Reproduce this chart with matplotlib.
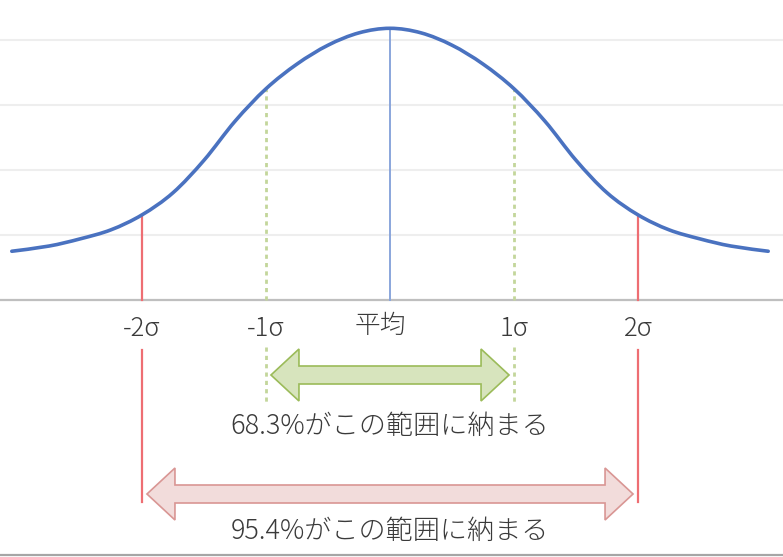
import numpy as np
import matplotlib.pyplot as plt
from matplotlib.patches import Polygon, PathPatch
from matplotlib.path import Path

plt.rcParams['font.family'] = ['Noto Sans CJK JP', 'DejaVu Sans']

# curve: position in sigma, height in gridline units
z_pos = [-3.05, -2.75, -2.5, -2.25, -2.0, -1.75, -1.5, -1.25, -1.0, -0.75, -0.5, -0.25,
         0.0, 0.25, 0.5, 0.75, 1.0, 1.25, 1.5, 1.75, 2.0, 2.25, 2.5, 2.75, 3.05]
height = [0.75, 0.83, 0.94, 1.08, 1.31, 1.65, 2.15, 2.75, 3.25, 3.63, 3.92, 4.11,
          4.18, 4.11, 3.92, 3.63, 3.25, 2.75, 2.15, 1.65, 1.31, 1.08, 0.94, 0.83, 0.75]

tick_pos = [-2, -1, -0.08, 1, 2]
tick_labels = ['-2σ', '-1σ', '平均', '1σ', '2σ']
grid_levels = [1, 2, 3, 4]

ranges = [1, 2]
range_texts = ['68.3%がこの範囲に納まる', '95.4%がこの範囲に納まる']

# pixel scale of the original: 124 px per sigma, 65 px per grid step
fig = plt.figure(figsize=(7.83, 5.57), dpi=100)
ax = fig.add_axes([0, 0, 1, 1])
ax.axis('off')
ax.set_xlim(-390 / 124, 393 / 124)
ax.set_ylim(-257 / 65, 300 / 65)

for g in grid_levels:
    ax.axhline(g, color='#eeeeee', lw=1.5, zorder=0)
ax.axhline(0, color='#bfbfbf', lw=1.6, zorder=1)
ax.axhline(-255 / 65, color='#a6a6a6', lw=1.6, zorder=1)

# smoothed line like excel's, bezier segments through the read points
pts = np.column_stack([z_pos, height])
verts = [pts[0]]
codes = [Path.MOVETO]
for i in range(len(pts) - 1):
    p_prev = pts[max(i - 1, 0)]
    p_next = pts[min(i + 2, len(pts) - 1)]
    c1 = pts[i] + (pts[i + 1] - p_prev) / 6
    c2 = pts[i + 1] - (p_next - pts[i]) / 6
    verts += [c1, c2, pts[i + 1]]
    codes += [Path.CURVE4] * 3
ax.add_patch(PathPatch(Path(verts, codes), fill=False, edgecolor='#4a72c0', lw=2.6,
                       capstyle='round', zorder=5))

def curve_at(x):
    return np.interp(x, z_pos, height)

# mean line
ax.plot([0, 0], [0, curve_at(0)], color='#8aa6dc', lw=1.4, zorder=3)

# 1 sigma markers
for s in (-1, 1):
    ax.plot([s, s], [0, curve_at(s)], color='#c3d69b', lw=2, ls=(0, (1.5, 1.5)), zorder=3)
    ax.plot([s, s], [-0.72, -1.62], color='#c3d69b', lw=2, ls=(0, (1.5, 1.5)), zorder=3)

# 2 sigma markers
for s in (-2, 2):
    ax.plot([s, s], [0, curve_at(s)], color='#ee6e73', lw=1.6, zorder=3)
    ax.plot([s, s], [-0.77, -3.11], color='#ee6e73', lw=1.6, zorder=3)

for p, lab in zip(tick_pos, tick_labels):
    yy = -0.40 if lab == '平均' else -0.45
    ax.text(p, yy, lab, ha='center', va='center', fontsize=18.5, color='#3a3a3a',
            fontweight='light')

def double_arrow(x0, x1, yc, face, edge):
    hl = 28 / 124
    bw = 9 / 65
    hw = 26 / 65
    pts = [(x0, yc), (x0 + hl, yc + hw), (x0 + hl, yc + bw), (x1 - hl, yc + bw),
           (x1 - hl, yc + hw), (x1, yc), (x1 - hl, yc - hw), (x1 - hl, yc - bw),
           (x0 + hl, yc - bw), (x0 + hl, yc - hw)]
    ax.add_patch(Polygon(pts, closed=True, facecolor=face, edgecolor=edge, lw=1.2, zorder=4))

arrow_y = [-75 / 65, -194 / 65]
text_y = [-126 / 65, -231 / 65]
faces = ['#d7e4bd', '#f2dcdb']
edges = ['#9bbb59', '#d99694']
for r, t, ay, ty, fc, ec in zip(ranges, range_texts, arrow_y, text_y, faces, edges):
    double_arrow(-r + 0.04, r - 0.04, ay, fc, ec)
    ax.text(0, ty, t, ha='center', va='center', fontsize=19.5, color='#3a3a3a',
            fontweight='light')

fig.savefig('out.png', dpi=100)
